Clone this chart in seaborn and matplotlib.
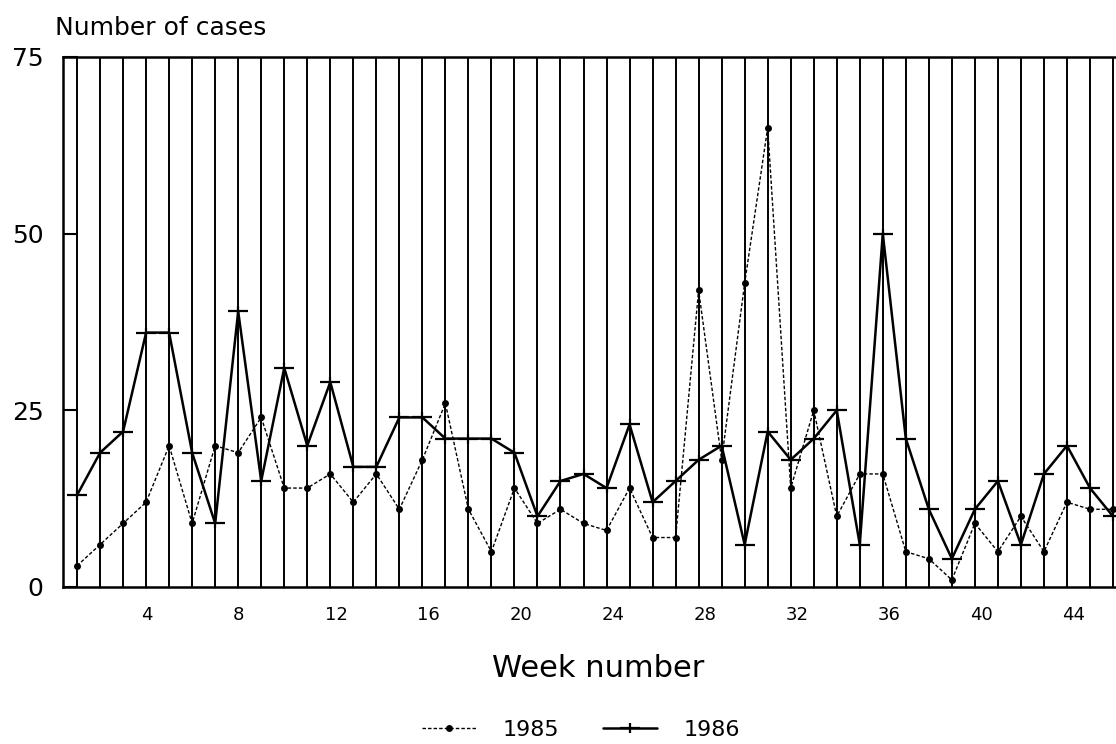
import matplotlib
matplotlib.use('Agg')
import matplotlib.pyplot as plt
import matplotlib.transforms as mtransforms
from matplotlib.path import Path
import seaborn as sns

weeks = list(range(1, 47))
cases_1985 = [3, 6, 9, 12, 20, 9, 20, 19, 24, 14,
              14, 16, 12, 16, 11, 18, 26, 11, 5, 14,
              9, 11, 9, 8, 14, 7, 7, 42, 18, 43,
              65, 14, 25, 10, 16, 16, 5, 4, 1, 9,
              5, 10, 5, 12, 11, 11]
cases_1986 = [13, 19, 22, 36, 36, 19, 9, 39, 15, 31,
              20, 29, 17, 17, 24, 24, 21, 21, 21, 19,
              10, 15, 16, 14, 23, 12, 15, 18, 20, 6,
              22, 18, 21, 25, 6, 50, 21, 11, 4, 11,
              15, 6, 16, 20, 14, 10]
week_ticks = list(range(4, 45, 4))
y_ticks = [0, 25, 50, 75]

sns.set_style("ticks")
plt.rcParams['font.family'] = ['DejaVu Sans']
plt.rcParams['text.color'] = 'black'
plt.rcParams['xtick.color'] = 'black'
plt.rcParams['ytick.color'] = 'black'
plt.rcParams['axes.labelcolor'] = 'black'

fig = plt.figure(figsize=(11.16, 7.44), dpi=100)
ax = fig.add_axes([63 / 1116, 1 - 587 / 744, 1 - 63 / 1116, 530 / 744])

# plus sign with a wide bar, like the plotter marker
plus = Path([(-1, 0), (1, 0), (0, -0.45), (0, 0.45)],
            [Path.MOVETO, Path.LINETO, Path.MOVETO, Path.LINETO])

sns.lineplot(x=weeks, y=cases_1985, ax=ax, color='black', lw=1.0,
             linestyle=(0, (2.5, 1.5)), marker='o', markersize=5,
             markeredgewidth=0, markerfacecolor='black',
             label='1985', zorder=3)
sns.lineplot(x=weeks, y=cases_1986, ax=ax, color='black', lw=1.8,
             marker=plus, markersize=15, markeredgewidth=1.6,
             markeredgecolor='black', markerfacecolor='black',
             label='1986', zorder=4)

ax.set_xlim(0.39, 46.13)
ax.set_ylim(0, 75)
ax.set_xticks(week_ticks)
ax.set_xticks(weeks, minor=True)
ax.set_yticks(y_ticks)
ax.grid(axis='x', which='both', color='black', lw=1.4)
ax.grid(axis='y', visible=False)
ax.tick_params(axis='x', which='both', length=0, labelsize=13, pad=14)
ax.tick_params(axis='y', direction='in', length=11, width=1.5,
               labelsize=18, pad=14)
for lab in ax.get_xticklabels():
    lab.set_horizontalalignment('left')
    lab.set_transform(lab.get_transform() +
                      mtransforms.ScaledTranslation(-5 / 100, 0, fig.dpi_scale_trans))

for side in ['left', 'bottom', 'top']:
    ax.spines[side].set_linewidth(1.8)
    ax.spines[side].set_color('black')
ax.spines['right'].set_visible(False)
ax.set_xlabel('')
ax.set_ylabel('')

fig.text(55 / 1116, 1 - 35 / 744, 'Number of cases', fontsize=18,
         ha='left', va='baseline')
fig.text(598 / 1116, 1 - 677 / 744, 'Week number', fontsize=22,
         ha='center', va='baseline')

handles, labels = ax.get_legend_handles_labels()
ax.get_legend().remove()
fig.legend(handles, labels, loc='center', bbox_to_anchor=(581 / 1116, 1 - 730 / 744),
           ncol=2, frameon=False, fontsize=16, handlelength=2.4,
           handletextpad=1.2, columnspacing=2.0)

fig.savefig('out.png', dpi=100)
